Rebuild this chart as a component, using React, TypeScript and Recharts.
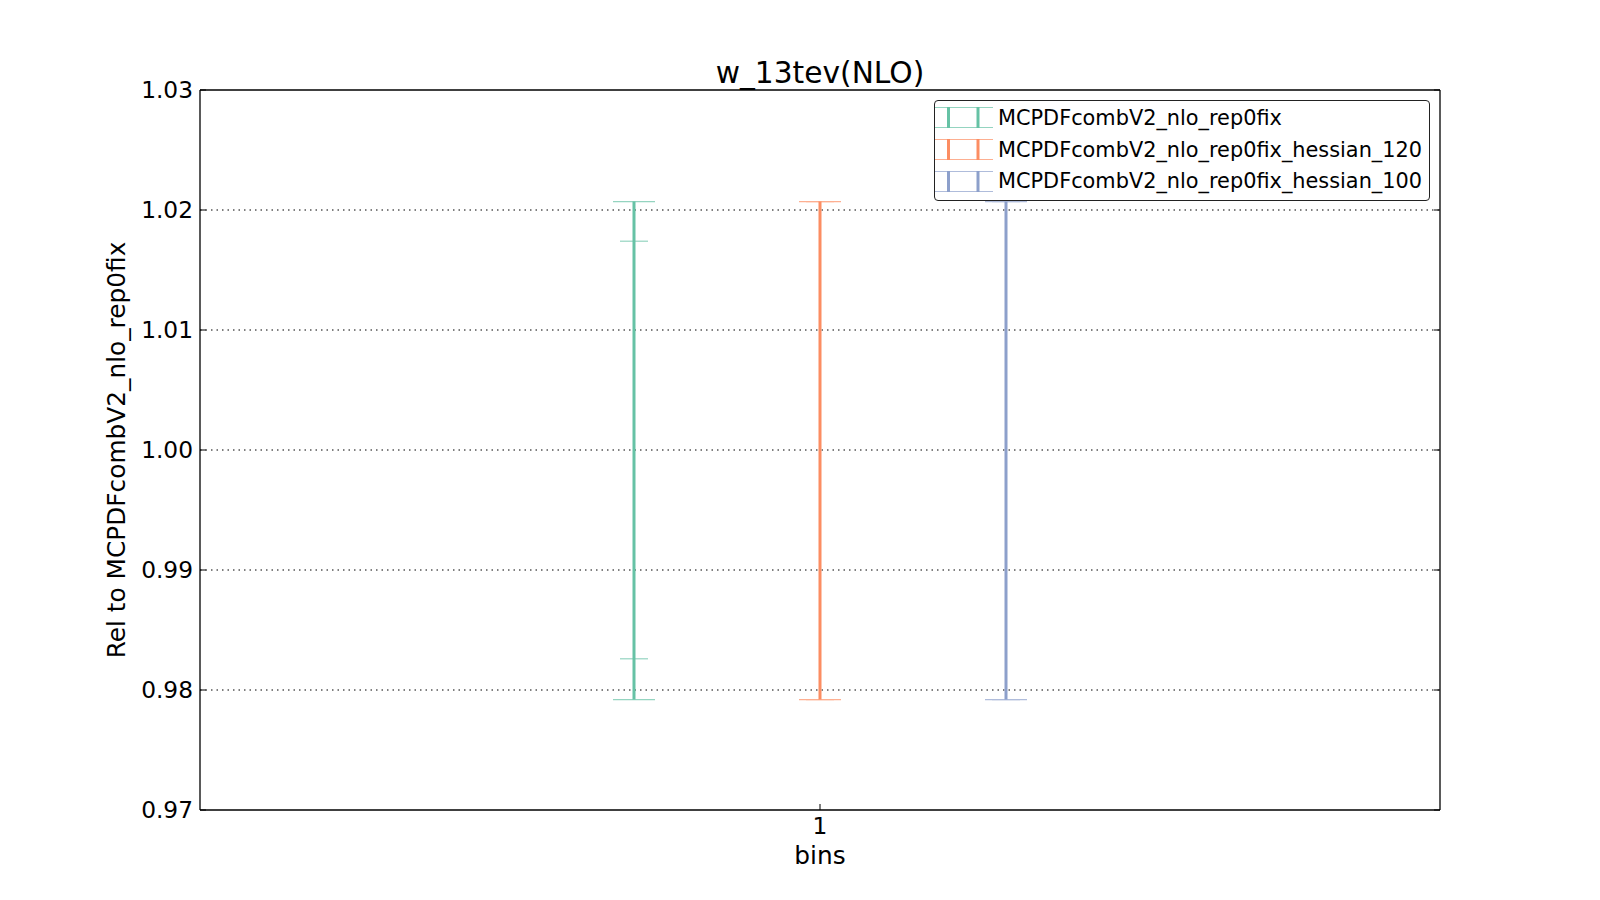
import React from 'react';
import { ScatterChart, Scatter, ErrorBar, XAxis, YAxis, CartesianGrid, Label, Legend } from 'recharts';

const categories = ['1'];
const seriesNames = [
  'MCPDFcombV2_nlo_rep0fix',
  'MCPDFcombV2_nlo_rep0fix_hessian_120',
  'MCPDFcombV2_nlo_rep0fix_hessian_100',
];
const seriesColors = ['#66c2a5', '#fc8d62', '#8da0cb'];
const capColors = ['#94d4c0', '#fdaf91', '#afbcdb'];
const seriesOffsets = [-0.3, 0, 0.3];
const centralValues = [1.0, 1.0, 1.0];
const outerUpper = [1.0207, 1.0207, 1.0207];
const outerLower = [0.9792, 0.9792, 0.9792];
const innerUpper = [1.0174, 1.0207, 1.0207];
const innerLower = [0.9826, 0.9792, 0.9792];
const yTicks = [0.97, 0.98, 0.99, 1.0, 1.01, 1.02, 1.03];
const gridValues = [0.98, 0.99, 1.0, 1.01, 1.02];
const xTicks = [1];

const seriesData = seriesNames.map((name, i) => [
  {
    x: xTicks[0] + seriesOffsets[i],
    y: centralValues[i],
    outer: [centralValues[i] - outerLower[i], outerUpper[i] - centralValues[i]],
    inner: [centralValues[i] - innerLower[i], innerUpper[i] - centralValues[i]],
  },
]);

const FONT = '"DejaVu Sans", sans-serif';

const LegendBox = () => (
  <div
    style={{
      boxSizing: 'border-box',
      width: 496,
      height: 101,
      border: '1px solid #222',
      borderRadius: 4,
      background: '#fff',
      paddingTop: 1,
      fontFamily: FONT,
    }}
  >
    {seriesNames.map((n, i) => (
      <div key={n} style={{ display: 'flex', alignItems: 'center', height: 31.7 }}>
        <svg width={58} height={21} style={{ display: 'block' }}>
          <line x1={0} x2={58} y1={0.5} y2={0.5} stroke={capColors[i]} strokeWidth={1} />
          <line x1={0} x2={58} y1={20.5} y2={20.5} stroke={capColors[i]} strokeWidth={1} />
          <line x1={13.5} x2={13.5} y1={0} y2={21} stroke={seriesColors[i]} strokeWidth={3} />
          <line x1={43} x2={43} y1={0} y2={21} stroke={seriesColors[i]} strokeWidth={3} />
        </svg>
        <span style={{ marginLeft: 5, fontSize: 20.85, color: '#000', whiteSpace: 'nowrap' }}>{n}</span>
      </div>
    ))}
  </div>
);

const emptyTick = () => <g />;

export default function App() {
  return (
    <div
      style={{
        position: 'absolute',
        left: 0,
        top: 0,
        width: 1600,
        height: 900,
        background: '#fff',
        fontFamily: FONT,
      }}
    >
      <ScatterChart width={1600} height={900} margin={{ top: 0, right: 159, bottom: 30, left: 32 }}>
        <CartesianGrid
          horizontal
          vertical={false}
          stroke="#000"
          strokeDasharray="1.5 4"
          horizontalValues={gridValues}
        />
        <XAxis
          xAxisId={0}
          dataKey="x"
          type="number"
          domain={[0, 2]}
          ticks={xTicks}
          tickFormatter={(v: number) => categories[xTicks.indexOf(v)] ?? String(v)}
          height={60}
          tickSize={-6}
          tickMargin={13}
          axisLine={{ stroke: '#000', strokeWidth: 1.3 }}
          tickLine={{ stroke: '#000' }}
          tick={{ fontSize: 23.3, fill: '#000' }}
          allowDataOverflow
        >
          <Label value="bins" position="insideBottom" offset={6} style={{ fontSize: 24.8, fill: '#000' }} />
        </XAxis>
        <XAxis
          xAxisId="top"
          orientation="top"
          type="number"
          domain={[0, 2]}
          ticks={xTicks}
          height={90}
          tickSize={-6}
          axisLine={{ stroke: '#000', strokeWidth: 1.3 }}
          tickLine={{ stroke: '#000' }}
          tick={emptyTick}
          allowDataOverflow
        >
          <Label value="w_13tev(NLO)" position="insideBottom" offset={7} style={{ fontSize: 29.7, fill: '#000' }} />
        </XAxis>
        <YAxis
          yAxisId={0}
          dataKey="y"
          type="number"
          domain={[0.97, 1.03]}
          ticks={yTicks}
          tickFormatter={(v: number) => v.toFixed(2)}
          width={168}
          tickSize={-6}
          tickMargin={13}
          axisLine={{ stroke: '#000', strokeWidth: 1.3 }}
          tickLine={{ stroke: '#000' }}
          tick={{ fontSize: 23.3, fill: '#000' }}
          allowDataOverflow
        >
          <Label
            value="Rel to MCPDFcombV2_nlo_rep0fix"
            position="center"
            angle={-90}
            style={{ fontSize: 24.8, fill: '#000' }}
          />
        </YAxis>
        <YAxis
          yAxisId="right"
          orientation="right"
          type="number"
          domain={[0.97, 1.03]}
          ticks={yTicks}
          width={1}
          tickSize={-6}
          axisLine={{ stroke: '#000', strokeWidth: 1.3 }}
          tickLine={{ stroke: '#000' }}
          tick={emptyTick}
          allowDataOverflow
        />
        {seriesNames.map((name, i) => (
          <Scatter
            key={name}
            name={name}
            data={seriesData[i]}
            xAxisId={0}
            yAxisId={0}
            isAnimationActive={false}
            shape={() => <g />}
            legendType="none"
          >
            <ErrorBar dataKey="outer" direction="y" width={21} stroke={capColors[i]} strokeWidth={1.2} isAnimationActive={false} />
            <ErrorBar dataKey="inner" direction="y" width={14} stroke={capColors[i]} strokeWidth={1.2} isAnimationActive={false} />
            <ErrorBar dataKey="outer" direction="y" width={0} stroke={seriesColors[i]} strokeWidth={3} isAnimationActive={false} />
          </Scatter>
        ))}
        <Legend
          layout="vertical"
          align="center"
          verticalAlign="middle"
          wrapperStyle={{ position: 'absolute', left: 934, top: 100, width: 496, height: 101, margin: 0, padding: 0 }}
          content={() => <LegendBox />}
        />
      </ScatterChart>
    </div>
  );
}
